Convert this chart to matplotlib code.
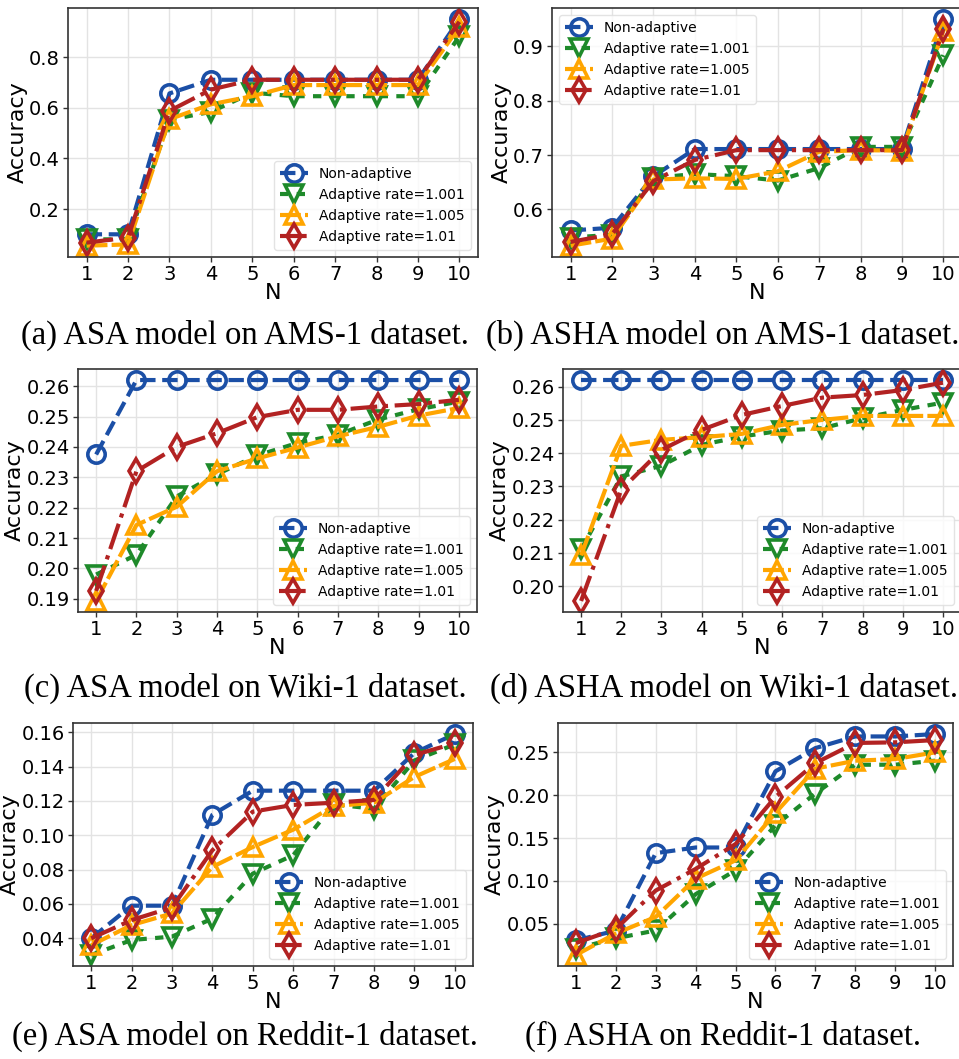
import matplotlib
matplotlib.use("Agg")
import matplotlib.pyplot as plt
from matplotlib.ticker import MultipleLocator, FormatStrFormatter

N = list(range(1, 11))
labels = ["Non-adaptive", "Adaptive rate=1.001", "Adaptive rate=1.005", "Adaptive rate=1.01"]

# (a) ASA / AMS-1
asa_ams_non = [0.100, 0.100, 0.657, 0.711, 0.711, 0.711, 0.711, 0.711, 0.711, 0.950]
asa_ams_1001 = [0.080, 0.080, 0.553, 0.584, 0.660, 0.646, 0.646, 0.646, 0.646, 0.883]
asa_ams_1005 = [0.055, 0.060, 0.555, 0.614, 0.646, 0.690, 0.690, 0.690, 0.690, 0.920]
asa_ams_101 = [0.067, 0.087, 0.588, 0.672, 0.711, 0.711, 0.711, 0.711, 0.711, 0.940]

# (b) ASHA / AMS-1
asha_ams_non = [0.561, 0.566, 0.661, 0.711, 0.711, 0.711, 0.711, 0.711, 0.711, 0.950]
asha_ams_1001 = [0.548, 0.553, 0.658, 0.665, 0.661, 0.653, 0.676, 0.715, 0.715, 0.884]
asha_ams_1005 = [0.533, 0.546, 0.655, 0.657, 0.656, 0.670, 0.706, 0.709, 0.708, 0.929]
asha_ams_101 = [0.540, 0.554, 0.652, 0.691, 0.709, 0.709, 0.709, 0.709, 0.709, 0.932]

# (c) ASA / Wiki-1
asa_wiki_non = [0.2375, 0.262, 0.262, 0.262, 0.262, 0.262, 0.262, 0.262, 0.262, 0.262]
asa_wiki_1001 = [0.1980, 0.2045, 0.2237, 0.2310, 0.2372, 0.2413, 0.2440, 0.2490, 0.2524, 0.2549]
asa_wiki_1005 = [0.1893, 0.2143, 0.2203, 0.2320, 0.2362, 0.2398, 0.2435, 0.2466, 0.2503, 0.2528]
asa_wiki_101 = [0.1926, 0.2320, 0.2400, 0.2445, 0.2498, 0.2522, 0.2522, 0.2533, 0.2541, 0.2555]

# (d) ASHA / Wiki-1
asha_wiki_non = [0.262, 0.262, 0.262, 0.262, 0.262, 0.262, 0.262, 0.262, 0.262, 0.262]
asha_wiki_1001 = [0.2110, 0.2330, 0.2362, 0.2425, 0.2450, 0.2468, 0.2475, 0.2505, 0.2530, 0.2552]
asha_wiki_1005 = [0.2092, 0.2422, 0.2440, 0.2448, 0.2458, 0.2485, 0.2500, 0.2512, 0.2512, 0.2512]
asha_wiki_101 = [0.1955, 0.2290, 0.2410, 0.2470, 0.2515, 0.2542, 0.2567, 0.2575, 0.2590, 0.2612]

# (e) ASA / Reddit-1
asa_reddit_non = [0.040, 0.059, 0.059, 0.112, 0.126, 0.126, 0.126, 0.126, 0.148, 0.159]
asa_reddit_1001 = [0.0303, 0.039, 0.041, 0.0515, 0.0777, 0.0884, 0.118, 0.1155, 0.1436, 0.153]
asa_reddit_1005 = [0.036, 0.0477, 0.0545, 0.0816, 0.0932, 0.1033, 0.117, 0.119, 0.134, 0.1445]
asa_reddit_101 = [0.040, 0.0506, 0.058, 0.0913, 0.1138, 0.1177, 0.119, 0.1206, 0.1468, 0.1536]

# (f) ASHA / Reddit-1
asha_reddit_non = [0.0306, 0.042, 0.1324, 0.139, 0.139, 0.2279, 0.255, 0.2686, 0.2686, 0.2714]
asha_reddit_1001 = [0.021, 0.033, 0.0422, 0.0845, 0.1124, 0.165, 0.202, 0.2356, 0.2356, 0.2403]
asha_reddit_1005 = [0.0136, 0.0387, 0.058, 0.1027, 0.124, 0.1794, 0.231, 0.2403, 0.2422, 0.250]
asha_reddit_101 = [0.0275, 0.044, 0.0888, 0.114, 0.143, 0.198, 0.2375, 0.261, 0.2617, 0.2644]

captions = [
    "(a) ASA model on AMS-1 dataset.",
    "(b) ASHA model on AMS-1 dataset.",
    "(c) ASA model on Wiki-1 dataset.",
    "(d) ASHA model on Wiki-1 dataset.",
    "(e) ASA model on Reddit-1 dataset.",
    "(f) ASHA on Reddit-1 dataset.",
]

styles = [
    dict(color="#1b4fa6", marker="o", linestyle="--"),
    dict(color="#1e8a2a", marker="v", linestyle=(0, (2, 2))),
    dict(color="#ffa500", marker="^", linestyle=(0, (5, 1))),
    dict(color="#b22222", marker="d", linestyle="-."),
]

W, H = 959, 1059
fig = plt.figure(figsize=(W / 100, H / 100), dpi=100)
plt.rcParams["font.family"] = ["DejaVu Sans"]


def px_axes(left, right, top, bottom):
    return fig.add_axes([left / W, 1 - bottom / H, (right - left) / W, (bottom - top) / H])


panels = [
    ((68, 478, 8, 257), [asa_ams_non, asa_ams_1001, asa_ams_1005, asa_ams_101], 0.2, "%.1f", "lower right"),
    ((552, 962, 8, 257), [asha_ams_non, asha_ams_1001, asha_ams_1005, asha_ams_101], 0.1, "%.1f", "upper left"),
    ((78, 477, 369, 612), [asa_wiki_non, asa_wiki_1001, asa_wiki_1005, asa_wiki_101], 0.01, "%.2f", "lower right"),
    ((563, 961, 369, 612), [asha_wiki_non, asha_wiki_1001, asha_wiki_1005, asha_wiki_101], 0.01, "%.2f", "lower right"),
    ((73, 473, 723, 966), [asa_reddit_non, asa_reddit_1001, asa_reddit_1005, asa_reddit_101], 0.02, "%.2f", "lower right"),
    ((558, 953, 723, 966), [asha_reddit_non, asha_reddit_1001, asha_reddit_1005, asha_reddit_101], 0.05, "%.2f", "lower right"),
]

for box, series, step, fmt, loc in panels:
    ax = px_axes(*box)
    ax.set_axisbelow(True)
    ax.grid(True, color="#e3e3e3", linewidth=1.0)
    for vals, lab, st in zip(series, labels, styles):
        ax.plot(N, vals, label=lab, linewidth=3, markersize=12.5, markeredgewidth=2.6,
                fillstyle="none", **st)
    ax.set_xticks(N)
    ax.yaxis.set_major_locator(MultipleLocator(step))
    ax.yaxis.set_major_formatter(FormatStrFormatter(fmt))
    ax.tick_params(labelsize=14, length=3.5, width=1, color="#333333", pad=2.5)
    ax.set_xlabel("N", fontsize=16, labelpad=-1)
    ax.set_ylabel("Accuracy", fontsize=16, labelpad=1)
    for sp in ax.spines.values():
        sp.set_color("#333333")
        sp.set_linewidth(1.2)
    leg = ax.legend(loc=loc, fontsize=10, frameon=True, fancybox=True,
                    handlelength=2.0, labelspacing=0.5, borderaxespad=0.5,
                    borderpad=0.45)
    leg.get_frame().set_edgecolor("#dddddd")
    leg.get_frame().set_linewidth(1.0)

cap_pos = [(245, 335), (723, 335), (245, 688), (724, 688), (245, 1036), (723, 1036)]
for text, (cx, cy) in zip(captions, cap_pos):
    fig.text(cx / W, 1 - cy / H, text, ha="center", va="center",
             fontsize=23.5, family=["Liberation Serif", "DejaVu Serif"])

fig.savefig("out.png", dpi=100)
